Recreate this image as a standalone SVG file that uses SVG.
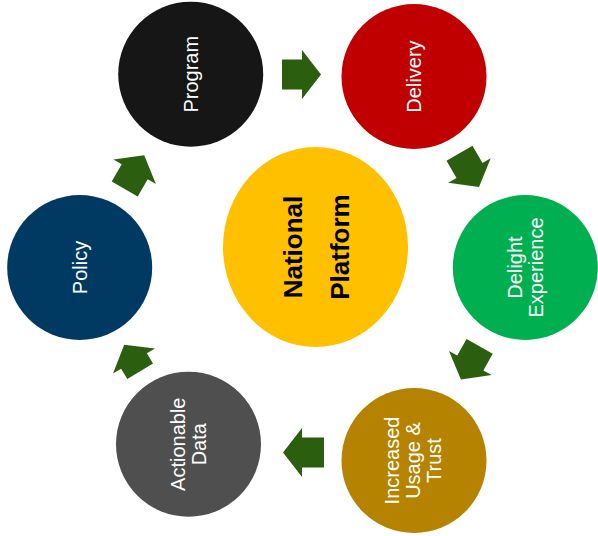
<svg xmlns="http://www.w3.org/2000/svg" width="598" height="536" viewBox="0 0 598 536">
<style>
.lbl{font-family:"Liberation Sans",Arial,sans-serif;font-size:20px;fill:#ffffff;text-anchor:middle}
.big{font-family:"Liberation Sans",Arial,sans-serif;font-size:26px;font-weight:bold;fill:#000000;text-anchor:middle}
.arr{fill:#2B5E0F}
</style>
<rect width="598" height="536" fill="#ffffff"/>
<g id="connectors">
<polygon class="arr" points="-20,-15 0,-15 0,-24.5 19,0 0,24.5 0,15 -20,15" transform="translate(302,74.5) rotate(0)"/>
<polygon class="arr" points="-20,-15 0,-15 0,-24.5 19,0 0,24.5 0,15 -20,15" transform="translate(469.5,170.5) rotate(60)"/>
<polygon class="arr" points="-19,-15 0,-15 0,-24.5 19,0 0,24.5 0,15 -19,15" transform="translate(470.3,363) rotate(119.5)"/>
<polygon class="arr" points="-22,-15 0,-15 0,-24.5 19,0 0,24.5 0,15 -22,15" transform="translate(302,452.5) rotate(180)"/>
<polygon class="arr" points="-12,-15 0,-15 0,-24.5 19,0 0,24.5 0,15 -12,15" transform="translate(134,361) rotate(-121)"/>
<polygon class="arr" points="-20,-15 0,-15 0,-24.5 19,0 0,24.5 0,15 -20,15" transform="translate(134.7,171.7) rotate(-60)"/>
</g>
<g id="national-platform">
<ellipse cx="315.5" cy="247" rx="92.5" ry="100" fill="#FFC000"/>
<g transform="translate(315.5,247) rotate(-90)">
<text class="big" x="0" y="-14">National</text>
<text class="big" x="0" y="33.5">Platform</text>
</g>
</g>
<g id="program">
<circle cx="190.7" cy="74.2" r="72.5" fill="#161616"/>
<text class="lbl" transform="translate(190.7,74.2) rotate(-90)" x="0" y="7">Program</text>
</g>
<g id="delivery">
<circle cx="414" cy="76.5" r="72.5" fill="#C00000"/>
<text class="lbl" transform="translate(414,76.5) rotate(-90)" x="0" y="7">Delivery</text>
</g>
<g id="delight-experience">
<circle cx="525.3" cy="267.5" r="72.5" fill="#00B050"/>
<g transform="translate(525.3,267.5) rotate(-90)">
<text class="lbl" x="0" y="-3.5">Delight</text>
<text class="lbl" x="0" y="17.5">Experience</text>
</g>
</g>
<g id="increased-usage-trust">
<circle cx="414" cy="460.5" r="72.5" fill="#B58300"/>
<g transform="translate(413,460.5) rotate(-90)">
<text class="lbl" x="0" y="-14">Increased</text>
<text class="lbl" x="0" y="7">Usage &amp;</text>
<text class="lbl" x="0" y="28">Trust</text>
</g>
</g>
<g id="actionable-data">
<circle cx="188.5" cy="444.2" r="72.5" fill="#4F4F4F"/>
<g transform="translate(188.5,444.2) rotate(-90)">
<text class="lbl" x="0" y="-3.5">Actionable</text>
<text class="lbl" x="0" y="17.5">Data</text>
</g>
</g>
<g id="policy">
<circle cx="79.7" cy="267.5" r="72.5" fill="#003A63"/>
<text class="lbl" transform="translate(79.7,267.5) rotate(-90)" x="0" y="7">Policy</text>
</g>
</svg>
